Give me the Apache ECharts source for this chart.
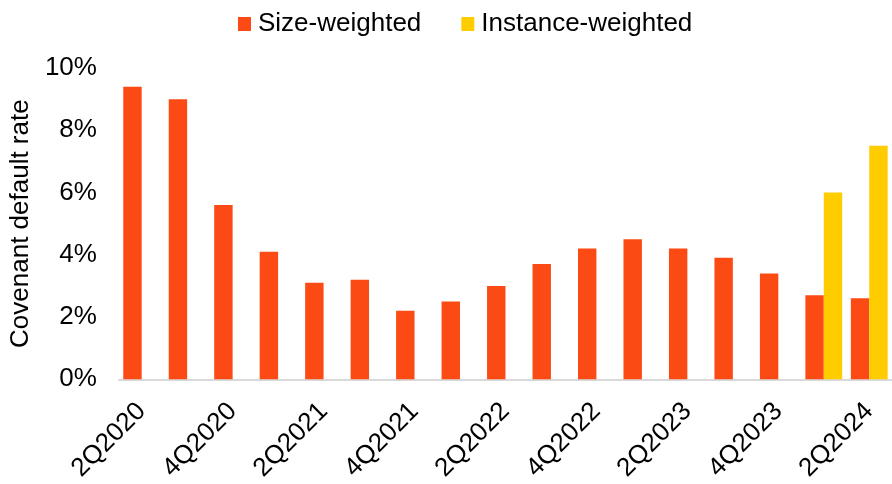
<!DOCTYPE html>
<html>
<head>
<meta charset="utf-8">
<script src="https://cdn.jsdelivr.net/npm/echarts@6/dist/echarts.min.js"></script>
<style>
  html, body { margin: 0; padding: 0; background: #ffffff; }
  #chart { width: 892px; height: 484px; }
</style>
</head>
<body>
<div id="chart"></div>
<script>
// Quarterly covenant default rates, in percent
const quarters = [
  '2Q2020', '3Q2020', '4Q2020', '1Q2021', '2Q2021', '3Q2021', '4Q2021',
  '1Q2022', '2Q2022', '3Q2022', '4Q2022', '1Q2023', '2Q2023', '3Q2023',
  '4Q2023', '1Q2024', '2Q2024'
];
const sizeWeighted = [9.4, 9.0, 5.6, 4.1, 3.1, 3.2, 2.2, 2.5, 3.0, 3.7, 4.2, 4.5, 4.2, 3.9, 3.4, 2.7, 2.6];
const instanceWeighted = [null, null, null, null, null, null, null, null, null, null, null, null, null, null, null, 6.0, 7.5];
const yTicks = { min: 0, max: 10, step: 2 };

const FONT = '"Liberation Sans", Arial, sans-serif';
const TEXT = '#000000';
const SIZE = 26;

const chart = echarts.init(document.getElementById('chart'), null, { renderer: 'canvas' });

chart.setOption({
  animation: false,
  backgroundColor: '#ffffff',
  textStyle: { fontFamily: FONT, color: TEXT },
  legend: {
    left: 233,
    top: 6,
    icon: 'rect',
    itemWidth: 13,
    itemHeight: 14,
    itemGap: 40,
    textStyle: { fontFamily: FONT, fontSize: SIZE, color: TEXT, padding: [0, 0, 0, 2] },
    data: ['Size-weighted', 'Instance-weighted']
  },
  grid: { left: 118, right: 0, top: 68, bottom: 101, containLabel: false },
  xAxis: {
    type: 'category',
    data: quarters,
    axisLine: { show: true, lineStyle: { color: '#d9d9d9', width: 2 } },
    axisTick: { show: false },
    axisLabel: {
      interval: 1,
      rotate: 45,
      margin: 28,
      fontFamily: FONT,
      fontSize: SIZE,
      color: TEXT
    }
  },
  yAxis: {
    type: 'value',
    min: yTicks.min,
    max: yTicks.max,
    interval: yTicks.step,
    name: 'Covenant default rate',
    nameLocation: 'middle',
    nameGap: 84,
    nameTextStyle: { fontFamily: FONT, fontSize: SIZE, color: TEXT },
    axisLine: { show: false },
    axisTick: { show: false },
    splitLine: { show: false },
    axisLabel: {
      formatter: '{value}%',
      margin: 22,
      fontFamily: FONT,
      fontSize: SIZE,
      color: TEXT
    }
  },
  series: [
    {
      name: 'Size-weighted',
      type: 'bar',
      data: sizeWeighted,
      barGap: '0%',
      barCategoryGap: '19%',
      itemStyle: { color: '#fc4a14' }
    },
    {
      name: 'Instance-weighted',
      type: 'bar',
      data: instanceWeighted,
      barGap: '0%',
      barCategoryGap: '19%',
      itemStyle: { color: '#ffcc00' }
    }
  ]
});
</script>
</body>
</html>
